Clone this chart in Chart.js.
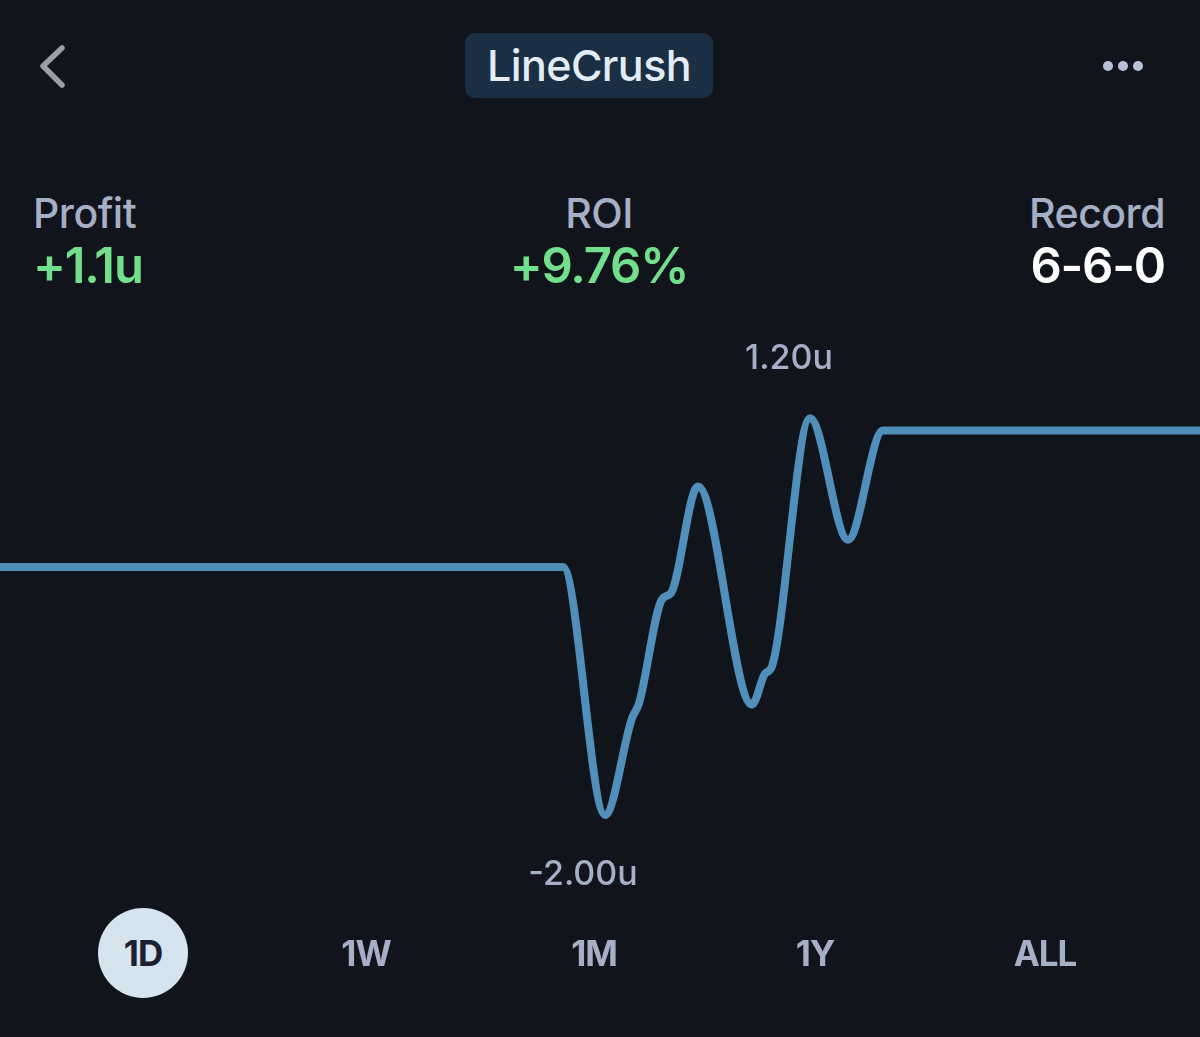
<!DOCTYPE html>
<html lang="en">
<head>
<meta charset="UTF-8">
<title>LineCrush</title>
<script src="https://cdn.jsdelivr.net/npm/chart.js"></script>
<style>
    html, body { margin: 0; padding: 0; }
    body { width: 1200px; height: 1037px; background: #11141b; font-family: 'Inter', 'Noto Sans', sans-serif; position: relative; overflow: hidden; }
    .back { position: absolute; left: 36px; top: 42px; }
    .pill { position: absolute; left: 465px; top: 33px; width: 248px; height: 65px; background: #1b2f44; border-radius: 10px; color: #e3ecf6; font-size: 43px; font-weight: 500; text-align: center; line-height: 65px; letter-spacing: -0.6px; }
    .dots { position: absolute; left: 1101px; top: 60px; }
    .stat { position: absolute; top: 190px; }
    .stat .lbl { color: #a5afc6; font-size: 41px; font-weight: 500; line-height: 46px; letter-spacing: -0.5px; }
    .stat .val { font-size: 49px; font-weight: 600; line-height: 60px; letter-spacing: -1.2px; }
    .green { color: #72df8c; }
    .white { color: #ffffff; }
    #s1 { left: 33px; }
    #s2 { left: 399px; width: 400px; text-align: center; }
    #s3 { right: 35px; text-align: right; }
    .chart-box { position: absolute; left: 0; top: 319px; width: 1200px; height: 620px; }
    .tabs div { position: absolute; top: 908px; width: 90px; height: 90px; line-height: 90px; text-align: center; color: #a5afc6; font-size: 35px; font-weight: 700; letter-spacing: -1px; margin-left: -45px; }
    .tabs .on { background: #d6e4ef; color: #1b2130; border-radius: 50%; }
</style>
</head>
<body>
    <svg class="back" width="40" height="56"><polyline points="26,6 7,24 26,43" fill="none" stroke="#9d9ea4" stroke-width="5.5" stroke-linecap="round" stroke-linejoin="round"/></svg>
    <div class="pill">LineCrush</div>
    <svg class="dots" width="50" height="14"><circle cx="7" cy="6" r="5" fill="#b7c1d7"/><circle cx="22" cy="6" r="5" fill="#b7c1d7"/><circle cx="37" cy="6" r="5" fill="#b7c1d7"/></svg>

    <div class="stat" id="s1"><div class="lbl">Profit</div><div class="val green">+1.1u</div></div>
    <div class="stat" id="s2"><div class="lbl">ROI</div><div class="val green">+9.76%</div></div>
    <div class="stat" id="s3"><div class="lbl">Record</div><div class="val white">6-6-0</div></div>

    <div class="chart-box"><canvas id="profitChart"></canvas></div>

    <div class="tabs">
        <div class="on" style="left:143px">1D</div>
        <div style="left:366px">1W</div>
        <div style="left:594px">1M</div>
        <div style="left:815px">1Y</div>
        <div style="left:1045px">ALL</div>
    </div>

<script>
    // time positions (arbitrary units) and running profit in units
    const times  = [0, 563, 605, 632, 639, 662, 671, 698, 752, 765, 772, 810, 848, 883, 1200];
    const profit = [0, 0, -2.00, -1.22, -1.10, -0.26, -0.21, 0.65, -1.11, -0.86, -0.80, 1.20, 0.22, 1.10, 1.10];

    const points = times.map((t, i) => ({ x: t, y: profit[i] }));

    // label the best and worst point of the run
    const extremeLabels = {
        id: 'extremeLabels',
        afterDatasetsDraw(chart) {
            const { ctx, scales } = chart;
            const hi = profit.indexOf(Math.max(...profit));
            const lo = profit.indexOf(Math.min(...profit));
            ctx.save();
            ctx.fillStyle = '#a5afc6';
            ctx.font = '500 34px Inter, sans-serif';
            ctx.textAlign = 'center';
            ctx.textBaseline = 'middle';
            ctx.fillText(profit[hi].toFixed(2) + 'u', scales.x.getPixelForValue(times[hi]) - 21, scales.y.getPixelForValue(profit[hi]) - 59);
            ctx.fillText(profit[lo].toFixed(2) + 'u', scales.x.getPixelForValue(times[lo]) - 22, scales.y.getPixelForValue(profit[lo]) + 60);
            ctx.restore();
        }
    };

    new Chart(document.getElementById('profitChart'), {
        type: 'line',
        data: {
            datasets: [{
                data: points,
                borderColor: '#4f8fba',
                borderWidth: 8,
                pointRadius: 0,
                cubicInterpolationMode: 'monotone',
                borderCapStyle: 'round',
                borderJoinStyle: 'round'
            }]
        },
        options: {
            responsive: true,
            maintainAspectRatio: false,
            animation: false,
            layout: { padding: 0 },
            scales: {
                x: { type: 'linear', min: 0, max: 1200, display: false },
                y: { min: -3, max: 2, display: false }
            },
            plugins: { legend: { display: false }, tooltip: { enabled: false } }
        },
        plugins: [extremeLabels]
    });
</script>
</body>
</html>
